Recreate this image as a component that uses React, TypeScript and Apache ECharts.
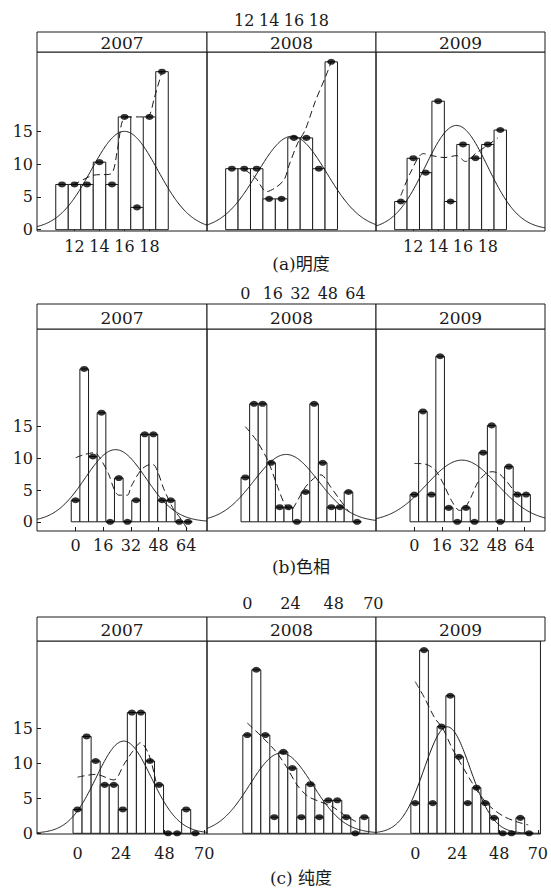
import React, { useEffect, useRef } from "react";
import * as echarts from "echarts";

// ---------------- data (percent of samples per bin) ----------------
const years = ["2007", "2008", "2009"];
const sampleSizes = [29, 43, 46];
const yTicks = [0, 5, 10, 15];

// (a) 明度 : bins of width 1, centred on 11..19
const lightBins = [11, 12, 13, 14, 15, 16, 17, 18, 19];
const lightTicks = [12, 14, 16, 18];
const lightPct2007 = [6.9, 6.9, 6.9, 10.3, 6.9, 17.2, 3.4, 17.2, 24.1];
const lightPct2008 = [9.3, 9.3, 9.3, 4.7, 4.7, 14.0, 14.0, 9.3, 25.6];
const lightPct2009 = [4.3, 10.9, 8.7, 19.6, 4.3, 13.0, 10.9, 13.0, 15.2];
const lightLoess2007 = [[11.9, 6.8], [13.5, 8.3], [14.9, 8.5], [15.4, 11.8], [15.8, 16.4], [16.2, 17.2], [17.8, 17.2], [18.4, 20.2], [19, 24.2]];
const lightLoess2008 = [[12, 9.2], [12.9, 7.9], [13.8, 5.8], [14.5, 6.4], [15.2, 7.6], [15.6, 9.8], [16.3, 13.2], [16.9, 15.2], [17.7, 19.5], [18.6, 23.6], [19, 25.6]];
const lightLoess2009 = [[11, 5.2], [11.8, 8.8], [12.8, 11.6], [13.5, 11.3], [14.5, 11.0], [15.5, 11.3], [16.2, 10.4], [17, 11.6], [18, 12.9], [18.8, 14.0]];

// (b) 色相 : bins of width 5, centred on 0..65
const hueBins = [0, 5, 10, 15, 20, 25, 30, 35, 40, 45, 50, 55, 60, 65];
const hueTicks = [0, 16, 32, 48, 64];
const huePct2007 = [3.4, 24.1, 10.3, 17.2, 0, 6.9, 0, 3.4, 13.8, 13.8, 3.4, 3.4, 0, 0];
const huePct2008 = [7.0, 18.6, 18.6, 9.3, 2.3, 2.3, 0, 4.7, 18.6, 9.3, 2.3, 2.3, 4.7, 0];
const huePct2009 = [4.3, 17.4, 4.3, 26.1, 2.2, 0, 2.2, 0, 10.9, 15.2, 0, 8.7, 4.3, 4.3];
const hueLoess2007 = [[0, 10.1], [5, 10.6], [11, 10.9], [14, 10.1], [19, 7.6], [22.5, 5.0], [25, 4.2], [30, 4.2], [32, 5.5], [38, 8.2], [43, 9.0], [45, 9.0], [47.5, 7.9], [51, 5.2], [57, 1.8], [60, 0.8], [65, -1.3]];
const hueLoess2008 = [[0, 15.0], [6.3, 12.9], [13, 9.7], [18, 6.1], [22.7, 2.9], [26.5, 1.8], [29.4, 2.9], [35, 5.5], [41, 7.1], [44, 7.4], [49.6, 5.5], [54.4, 3.7], [60.2, 1.6]];
const hueLoess2009 = [[0, 9.2], [6.3, 9.1], [12, 8.2], [16.7, 6.1], [21.5, 3.4], [26.3, 1.8], [29.2, 2.1], [33, 3.9], [36.7, 6.1], [41.5, 7.6], [45.3, 7.9], [49.2, 7.6], [53, 6.6], [57.7, 5.0], [61.5, 3.9]];

// (c) 纯度 : bins of width 5, centred on 0..65
const chromaBins = [0, 5, 10, 15, 20, 25, 30, 35, 40, 45, 50, 55, 60, 65];
const chromaTicks = [0, 24, 48, 70];
const chromaPct2007 = [3.4, 13.8, 10.3, 6.9, 6.9, 3.4, 17.2, 17.2, 10.3, 6.9, 0, 0, 3.4, 0];
const chromaPct2008 = [14.0, 23.3, 14.0, 2.3, 11.6, 9.3, 2.3, 7.0, 2.3, 4.7, 4.7, 2.3, 0, 2.3];
const chromaPct2009 = [4.3, 26.1, 4.3, 15.2, 19.6, 10.9, 4.3, 6.5, 4.3, 2.2, 0, 0, 2.2, 0];
const chromaLoess2007 = [[0, 8.0], [10, 8.4], [20, 7.6], [25.6, 9.8], [30.5, 11.7], [34.8, 12.9], [39.4, 11.2], [43.3, 7.4]];
const chromaLoess2008 = [[0, 15.7], [7.9, 13.8], [15.7, 11.7], [21.7, 9.5], [27.6, 6.9], [33.5, 5.3], [39.4, 4.6], [47.2, 3.8], [55.1, 2.4], [61, 1.6]];
const chromaLoess2009 = [[0, 21.6], [5.3, 19.3], [11.2, 16.4], [15.6, 15.0], [21.1, 12.1], [27, 9.5], [32, 7.4], [36.9, 5.5], [42.8, 3.8], [50.6, 2.4], [58.5, 1.6], [64.5, 1.2]];

// ---------------- layout ----------------
const FONT = "'DejaVu Serif', 'Noto Sans CJK SC', serif";
const INK = "#1a1a1a";
const facetLeft = [37, 207, 376];
const facetWidth = [170, 169, 169];

const figures = [
  {
    title: "(a)明度", bins: lightBins, binWidth: 1, ticks: lightTicks,
    pct: [lightPct2007, lightPct2008, lightPct2009],
    loess: [lightLoess2007, lightLoess2008, lightLoess2009],
    xMin: 9, xMax: 22.6, yMin: -0.2, yMax: 27.1,
    gridTop: 52, gridH: 179, stripTop: 32, stripH: 20,
    bottomMargin: 7, topMargin: 4, titleY: 264,
  },
  {
    title: "(b)色相", bins: hueBins, binWidth: 5, ticks: hueTicks,
    pct: [huePct2007, huePct2008, huePct2009],
    loess: [hueLoess2007, hueLoess2008, hueLoess2009],
    xMin: -22.3, xMax: 76, yMin: -1.45, yMax: 30.4,
    gridTop: 329, gridH: 202, stripTop: 304, stripH: 25,
    bottomMargin: 6, topMargin: 3, titleY: 567,
  },
  {
    title: "(c) 纯度", bins: chromaBins, binWidth: 5, ticks: chromaTicks,
    pct: [chromaPct2007, chromaPct2008, chromaPct2009],
    loess: [chromaLoess2007, chromaLoess2008, chromaLoess2009],
    xMin: -22.4, xMax: 71.5, yMin: -0.1, yMax: 27.4,
    gridTop: 641, gridH: 193, stripTop: 617, stripH: 24,
    bottomMargin: 11, topMargin: 6, titleY: 878,
  },
];

// fitted normal density (percent scale) from the binned data
function fittedNormal(bins: number[], pct: number[], n: number, bw: number, x0: number, x1: number) {
  const tot = pct.reduce((a, b) => a + b, 0);
  const mean = bins.reduce((a, b, i) => a + b * pct[i], 0) / tot;
  const v = bins.reduce((a, b, i) => a + (b - mean) * (b - mean) * pct[i], 0) / tot * n / (n - 1);
  const sd = Math.sqrt(v);
  const pts: number[][] = [];
  const N = 200;
  for (let i = 0; i <= N; i++) {
    const x = x0 + ((x1 - x0) * i) / N;
    const y = (100 * bw * Math.exp(-((x - mean) * (x - mean)) / (2 * sd * sd))) / (sd * Math.sqrt(2 * Math.PI));
    pts.push([x, y]);
  }
  return pts;
}

function buildOption() {
  const grid: any[] = [];
  const xAxis: any[] = [];
  const yAxis: any[] = [];
  const series: any[] = [];
  const graphic: any[] = [];

  figures.forEach((fig, f) => {
    for (let k = 0; k < 3; k++) {
      const idx = f * 3 + k;
      grid.push({
        left: facetLeft[k], width: facetWidth[k], top: fig.gridTop, height: fig.gridH,
        show: true, borderColor: INK, borderWidth: 1, backgroundColor: "transparent",
      });
      const isTop = k === 1;
      xAxis.push({
        type: "value", gridIndex: idx, min: fig.xMin, max: fig.xMax,
        position: isTop ? "top" : "bottom",
        offset: isTop ? fig.stripH : 0,
        axisLine: { show: false, onZero: false },
        axisTick: { show: true, inside: true, length: 4, lineStyle: { color: INK, width: 1 }, customValues: fig.ticks },
        axisLabel: {
          show: true, customValues: fig.ticks, margin: isTop ? fig.topMargin : fig.bottomMargin,
          color: INK, fontFamily: FONT, fontSize: 16,
        },
        splitLine: { show: false },
      });
      yAxis.push({
        type: "value", gridIndex: idx, min: fig.yMin, max: fig.yMax,
        show: k === 0,
        axisLine: { show: false, onZero: false },
        axisTick: { show: true, inside: true, length: 4, lineStyle: { color: INK, width: 1 }, customValues: yTicks },
        axisLabel: { show: true, customValues: yTicks, margin: 4, color: INK, fontFamily: FONT, fontSize: 16 },
        splitLine: { show: false },
      });

      const pct = fig.pct[k];
      const bw = fig.binWidth;
      series.push({
        type: "custom", xAxisIndex: idx, yAxisIndex: idx, clip: true, z: 1,
        data: fig.bins.map((b, i) => [b, pct[i]]),
        renderItem: (_p: any, api: any) => {
          const x = api.value(0);
          const v = api.value(1);
          const p0 = api.coord([x - bw / 2, v]);
          const p1 = api.coord([x + bw / 2, 0]);
          return {
            type: "rect",
            shape: { x: p0[0], y: p0[1], width: p1[0] - p0[0], height: p1[1] - p0[1] },
            style: { fill: "#fff", stroke: INK, lineWidth: 1 },
          };
        },
      });
      series.push({
        type: "line", xAxisIndex: idx, yAxisIndex: idx, z: 3, clip: true,
        data: fittedNormal(fig.bins, pct, sampleSizes[k], bw, fig.xMin, fig.xMax),
        showSymbol: false, symbol: "none",
        lineStyle: { color: INK, width: 1 },
      });
      series.push({
        type: "line", xAxisIndex: idx, yAxisIndex: idx, z: 4, clip: true,
        data: fig.loess[k], showSymbol: false, symbol: "none", smooth: 0.3,
        lineStyle: { color: INK, width: 1, type: [7, 4] },
      });
      series.push({
        type: "scatter", xAxisIndex: idx, yAxisIndex: idx, z: 5,
        data: fig.bins.map((b, i) => [b, pct[i]]),
        symbol: "circle", symbolSize: [8, 6],
        itemStyle: { color: "#000" },
      });

      graphic.push({
        type: "rect", z: 10,
        shape: { x: facetLeft[k], y: fig.stripTop, width: facetWidth[k], height: fig.stripH },
        style: { fill: "#fff", stroke: INK, lineWidth: 1 },
      });
      graphic.push({
        type: "text", z: 11,
        x: facetLeft[k] + facetWidth[k] / 2, y: fig.stripTop + fig.stripH / 2 + 1,
        style: { text: years[k], fill: INK, fontSize: 17, fontFamily: FONT, align: "center", verticalAlign: "middle", textAlign: "center", textVerticalAlign: "middle" },
      });
    }
    graphic.push({
      type: "text", z: 11, x: 301, y: fig.titleY,
      style: { text: fig.title, fill: INK, fontSize: 17, fontFamily: FONT, align: "center", verticalAlign: "middle", textAlign: "center", textVerticalAlign: "middle" },
    });
  });

  return { animation: false, backgroundColor: "#fff", grid, xAxis, yAxis, series, graphic };
}

export default function App() {
  const ref = useRef<HTMLDivElement>(null);
  useEffect(() => {
    if (!ref.current) return;
    const chart = echarts.init(ref.current, undefined, { renderer: "svg" });
    chart.setOption(buildOption() as any);
    return () => chart.dispose();
  }, []);
  return (
    <div
      ref={ref}
      style={{ position: "fixed", left: 0, top: 0, width: 551, height: 890, background: "#fff" }}
    />
  );
}
